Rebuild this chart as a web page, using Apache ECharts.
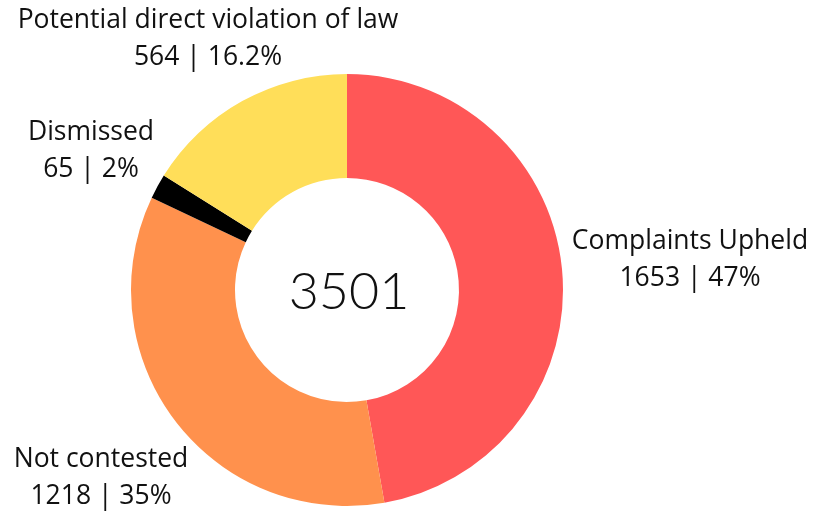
<!DOCTYPE html>
<html lang="en">
<head>
    <meta charset="UTF-8">
    <title>echarts</title>
    <script src="https://cdn.jsdelivr.net/npm/echarts@6/dist/echarts.min.js"></script>
    <style>
        html, body { margin: 0; padding: 0; background: #fff; }
    </style>
</head>
<body>
<div id="myChart" style="width: 816px;height:514px;"></div>
<script type="text/javascript">
    var categories = ["Complaints Upheld", "Not contested", "Dismissed", "Potential direct violation of law"];
    var values = [1653, 1218, 65, 564];
    var percents = ["47%", "35%", "2%", "16.2%"];
    var colors = ["#FF5757", "#FF914D", "#000000", "#FFDE59"];
    var totalLabel = "3501";

    // label anchor points (centre of each text block)
    var labelPos = [[690, 260], [101, 478], [91, 151], [208, 39]];

    var data = [];
    for (var i = 0; i < categories.length; i++) {
        data.push({name: categories[i], value: values[i], itemStyle: {color: colors[i]}});
    }

    var myChart = echarts.init(document.getElementById('myChart'));
    var option = {
        animation: false,
        title: {
            text: totalLabel,
            left: 344,
            top: 287,
            textAlign: 'center',
            textVerticalAlign: 'middle',
            textStyle: {fontFamily: 'Lato', fontWeight: 300, fontSize: 52, color: '#111'}
        },
        series: [{
            type: 'pie',
            center: [347, 290],
            radius: [112, 216],
            startAngle: 90,
            clockwise: true,
            data: data,
            label: {
                show: true,
                position: 'outside',
                overflow: 'none',
                fontFamily: 'Open Sans',
                fontSize: 26.5,
                lineHeight: 37,
                color: '#111',
                align: 'center',
                formatter: function (p) {
                    return p.name + '\n' + p.value + ' | ' + percents[p.dataIndex];
                }
            },
            labelLine: {show: false},
            labelLayout: function (params) {
                var p = labelPos[params.dataIndex];
                return {x: p[0], y: p[1], align: 'center', verticalAlign: 'middle', width: 500};
            }
        }]
    };
    myChart.setOption(option);
</script>
</body>
</html>
